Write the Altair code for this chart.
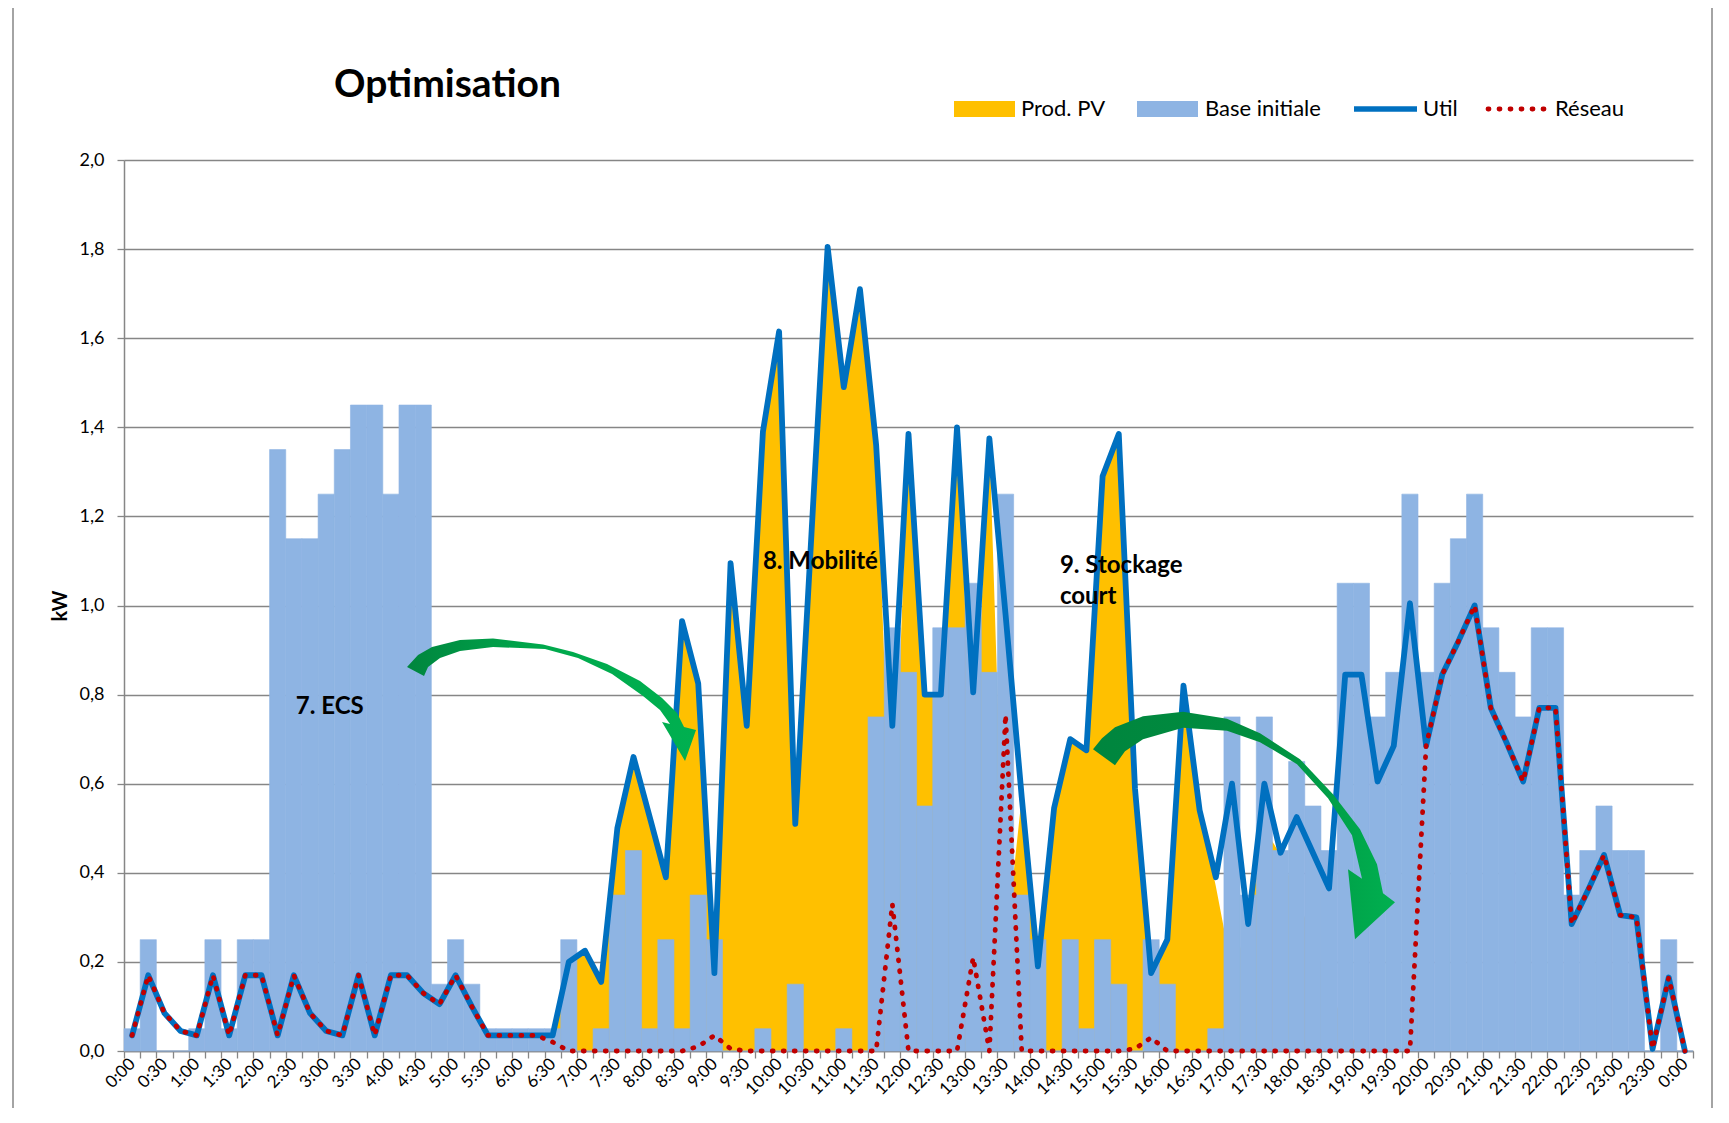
import json
import altair as alt
import pandas as pd

# ---------------- data ----------------
TIMES = [
    "0:00", "0:15", "0:30", "0:45", "1:00", "1:15", "1:30", "1:45",
    "2:00", "2:15", "2:30", "2:45", "3:00", "3:15", "3:30", "3:45",
    "4:00", "4:15", "4:30", "4:45", "5:00", "5:15", "5:30", "5:45",
    "6:00", "6:15", "6:30", "6:45", "7:00", "7:15", "7:30", "7:45",
    "8:00", "8:15", "8:30", "8:45", "9:00", "9:15", "9:30", "9:45",
    "10:00", "10:15", "10:30", "10:45", "11:00", "11:15", "11:30", "11:45",
    "12:00", "12:15", "12:30", "12:45", "13:00", "13:15", "13:30", "13:45",
    "14:00", "14:15", "14:30", "14:45", "15:00", "15:15", "15:30", "15:45",
    "16:00", "16:15", "16:30", "16:45", "17:00", "17:15", "17:30", "17:45",
    "18:00", "18:15", "18:30", "18:45", "19:00", "19:15", "19:30", "19:45",
    "20:00", "20:15", "20:30", "20:45", "21:00", "21:15", "21:30", "21:45",
    "22:00", "22:15", "22:30", "22:45", "23:00", "23:15", "23:30", "23:45",
    "0:00",
]

BASE_INITIALE = [
    0.05, 0.25, 0.00, 0.00, 0.05, 0.25, 0.05, 0.25,
    0.25, 1.35, 1.15, 1.15, 1.25, 1.35, 1.45, 1.45,
    1.25, 1.45, 1.45, 0.15, 0.25, 0.15, 0.05, 0.05,
    0.05, 0.05, 0.05, 0.25, 0.00, 0.05, 0.35, 0.45,
    0.05, 0.25, 0.05, 0.35, 0.25, 0.00, 0.00, 0.05,
    0.00, 0.15, 0.00, 0.00, 0.05, 0.00, 0.75, 0.95,
    0.85, 0.55, 0.95, 0.95, 1.05, 0.85, 1.25, 0.35,
    0.25, 0.00, 0.25, 0.05, 0.25, 0.15, 0.00, 0.25,
    0.15, 0.00, 0.00, 0.05, 0.75, 0.35, 0.75, 0.45,
    0.65, 0.55, 0.45, 1.05, 1.05, 0.75, 0.85, 1.25,
    0.85, 1.05, 1.15, 1.25, 0.95, 0.85, 0.75, 0.95,
    0.95, 0.35, 0.45, 0.55, 0.45, 0.45, 0.00, 0.25,
    0.00,
]

PROD_PV = [
    0.00, 0.00, 0.00, 0.00, 0.00, 0.00, 0.00, 0.00,
    0.00, 0.00, 0.00, 0.00, 0.00, 0.00, 0.00, 0.00,
    0.00, 0.00, 0.00, 0.00, 0.00, 0.00, 0.00, 0.00,
    0.00, 0.00, 0.03, 0.20, 0.225, 0.155, 0.50, 0.66,
    0.525, 0.39, 0.965, 0.815, 0.14, 1.09, 0.73, 1.39,
    1.615, 0.51, 1.16, 1.805, 1.49, 1.71, 1.36, 0.40,
    1.385, 0.80, 0.80, 1.40, 0.595, 1.375, 0.23, 0.57,
    0.19, 0.545, 0.70, 0.675, 1.29, 1.385, 0.585, 0.145,
    0.25, 0.82, 0.54, 0.37, 0.18, 0.28, 0.50, 0.44,
    0.35, 0.25, 0.15, 0.05, 0.00, 0.00, 0.00, 0.00,
    0.00, 0.00, 0.00, 0.00, 0.00, 0.00, 0.00, 0.00,
    0.00, 0.00, 0.00, 0.00, 0.00, 0.00, 0.00, 0.00,
    0.00,
]

UTIL = [
    0.035, 0.17, 0.085, 0.045, 0.035, 0.17, 0.035, 0.17,
    0.17, 0.035, 0.17, 0.085, 0.045, 0.035, 0.17, 0.035,
    0.17, 0.17, 0.13, 0.105, 0.17, 0.10, 0.035, 0.035,
    0.035, 0.035, 0.035, 0.20, 0.225, 0.155, 0.50, 0.66,
    0.525, 0.39, 0.965, 0.825, 0.175, 1.095, 0.73, 1.39,
    1.615, 0.51, 1.16, 1.805, 1.49, 1.71, 1.36, 0.73,
    1.385, 0.80, 0.80, 1.40, 0.805, 1.375, 0.98, 0.57,
    0.19, 0.545, 0.70, 0.675, 1.29, 1.385, 0.59, 0.175,
    0.25, 0.82, 0.54, 0.39, 0.60, 0.285, 0.60, 0.445,
    0.525, 0.445, 0.365, 0.845, 0.845, 0.605, 0.685, 1.005,
    0.685, 0.845, 0.92, 1.00, 0.77, 0.69, 0.605, 0.77,
    0.77, 0.285, 0.36, 0.44, 0.305, 0.30, 0.005, 0.165,
    0.00,
]

RESEAU = [
    0.035, 0.17, 0.085, 0.045, 0.035, 0.17, 0.035, 0.17,
    0.17, 0.035, 0.17, 0.085, 0.045, 0.035, 0.17, 0.035,
    0.17, 0.17, 0.13, 0.105, 0.17, 0.10, 0.035, 0.035,
    0.035, 0.035, 0.02, 0.00, 0.00, 0.00, 0.00, 0.00,
    0.00, 0.00, 0.00, 0.01, 0.035, 0.005, 0.00, 0.00,
    0.00, 0.00, 0.00, 0.00, 0.00, 0.00, 0.00, 0.33,
    0.00, 0.00, 0.00, 0.00, 0.21, 0.00, 0.755, 0.00,
    0.00, 0.00, 0.00, 0.00, 0.00, 0.00, 0.005, 0.03,
    0.00, 0.00, 0.00, 0.00, 0.00, 0.00, 0.00, 0.00,
    0.00, 0.00, 0.00, 0.00, 0.00, 0.00, 0.00, 0.00,
    0.685, 0.845, 0.92, 1.00, 0.77, 0.69, 0.605, 0.77,
    0.77, 0.285, 0.36, 0.44, 0.305, 0.30, 0.005, 0.165,
    0.00,
]

Y_TICKS = [0.0, 0.2, 0.4, 0.6, 0.8, 1.0, 1.2, 1.4, 1.6, 1.8, 2.0]
Y_LABELS = ["0,0", "0,2", "0,4", "0,6", "0,8", "1,0", "1,2", "1,4", "1,6", "1,8", "2,0"]
Y_TITLE = "kW"
TITLE = "Optimisation"
LEGEND = ["Prod. PV", "Base initiale", "Util", "Réseau"]

# annotations (in data coordinates: hours, kW)
NOTES = ["7. ECS", "8. Mobilité", "9. Stockage", "court"]
NOTE_H = [2.53, 9.75, 14.34, 14.34]
NOTE_KW = [0.756, 1.082, 1.073, 1.003]
ARROW_TIP_H = [8.546, 18.901]
ARROW_TIP_KW = [0.651, 0.251]

# ---------------- style ----------------
FONT = "Lato"
ORANGE = "#FFC000"
BLUE = "#8EB4E3"
UTIL_C = "#0070C0"
RES_C = "#C00000"
GRID = "#868686"
W, H = 1569, 891
SLOT = 0.25  # hours per category

n = len(TIMES)
df = pd.DataFrame({
    "time": TIMES,
    "h": [i * SLOT for i in range(n)],
    "base": BASE_INITIALE,
    "pv": PROD_PV,
    "util": UTIL,
    "reseau": RESEAU,
})

label_pos = [i * SLOT for i in range(0, n, 2)]
bounds = [(k - 0.5) * SLOT for k in range(n + 1)]
XVALS = sorted(label_pos + bounds)

XS = alt.Scale(domain=[-SLOT / 2, (n - 1) * SLOT + SLOT / 2], nice=False, zero=False)
YS = alt.Scale(domain=[0, 2], nice=False, zero=True)

is_label = "abs(datum.value * 2 - round(datum.value * 2)) < 0.001"
XA = alt.Axis(
    values=XVALS,
    labelExpr=f"{is_label} ? {json.dumps(TIMES)}[round(datum.value * 4)] : ''",
    labelAngle=315, labelAlign="right", labelBaseline="middle",
    labelFont=FONT, labelFontSize=17, labelColor="black", labelPadding=3,
    labelOverlap=False, labelFlush=False,
    tickSize=7, tickColor=GRID, tickWidth=1.3,
    tickOpacity={"condition": {"test": is_label, "value": 0}, "value": 1},
    domainColor=GRID, domainWidth=1.5, grid=False, title=None,
)
YA = alt.Axis(
    values=Y_TICKS,
    labelExpr=f"{json.dumps(Y_LABELS)}[round(datum.value * 5)]",
    labelFont=FONT, labelFontSize=18, labelColor="black", labelPadding=13,
    labelFlush=False, labelOverlap=False,
    tickSize=7, tickColor=GRID, tickWidth=1.3,
    domainColor=GRID, domainWidth=1.5,
    grid=True, gridColor=GRID, gridWidth=1.3,
    title=Y_TITLE, titleFont=FONT, titleFontSize=20, titleFontWeight="bold",
    titleColor="black", titlePadding=9,
)


def X(field):
    return alt.X(f"{field}:Q", scale=XS, axis=XA)


def Y(field):
    return alt.Y(f"{field}:Q", scale=YS, axis=YA)


pv_area = alt.Chart(df).mark_area(color=ORANGE, opacity=1).encode(x=X("h"), y=Y("pv"))

base_bars = (
    alt.Chart(df)
    .transform_calculate(x0=f"datum.h - {SLOT / 2}", x1=f"datum.h + {SLOT / 2}")
    .mark_rect(color=BLUE, stroke=BLUE, strokeWidth=0.6, opacity=1)
    .encode(x=X("x0"), x2="x1:Q", y=Y("base"), y2=alt.datum(0))
)

util_line = alt.Chart(df).mark_line(
    color=UTIL_C, strokeWidth=5.8, strokeJoin="round", strokeCap="round"
).encode(x=X("h"), y=Y("util"))

res_line = alt.Chart(df).mark_line(
    color=RES_C, strokeWidth=4.8, strokeDash=[1, 10], strokeCap="round", strokeJoin="round"
).encode(x=X("h"), y=Y("reseau"))

# ---------------- annotation arrows (shapes relative to their tip) ----------------
def path(pts):
    return "M" + " L".join(f"{x},{y}" for x, y in pts) + " Z"


ARROW1 = path([
    (-278, -94), (-267, -106), (-253, -114), (-225, -121), (-192, -122.5), (-142, -116.5),
    (-112, -109), (-78, -97), (-45, -80), (-23, -63), (-8, -48), (-1, -34),
    (11, -31), (0, 0), (-23, -39),
    (-15, -37), (-25, -51), (-42, -65), (-73, -87), (-107, -103), (-140, -112),
    (-192, -114), (-225, -110), (-245, -103), (-257, -94), (-261, -85),
])
ARROW2 = path([
    (-262, -190), (-253, -201), (-240, -212), (-212, -223), (-172, -227.5), (-128, -220.5),
    (-95, -206), (-55, -180), (-22, -145), (5, -110), (22, -75), (28, -46),
    (40, -37), (0, 0), (-7, -70),
    (7, -60.5), (-3, -104), (-27, -141), (-58, -175), (-95, -197), (-128, -208.5),
    (-172, -211.5), (-212, -200), (-230, -188), (-240, -174),
])


def grad(c0, c1, c2, mid):
    return {
        "gradient": "linear", "x1": 0, "y1": 0, "x2": 1, "y2": 0,
        "stops": [{"offset": 0, "color": c0}, {"offset": mid, "color": c1},
                  {"offset": 1, "color": c2}],
    }


arrows = []
for i, (shape, g) in enumerate([(ARROW1, grad("#00853E", "#00A84C", "#00B050", 0.45)),
                                (ARROW2, grad("#00853E", "#008E3F", "#00B050", 0.55))]):
    arrows.append(
        alt.Chart(pd.DataFrame({"h": [ARROW_TIP_H[i]], "kw": [ARROW_TIP_KW[i]]}))
        .mark_point(shape=shape, size=4, filled=True, fill=g, opacity=1, strokeOpacity=0)
        .encode(x=X("h"), y=Y("kw"))
    )

notes = (
    alt.Chart(pd.DataFrame({"label": NOTES, "h": NOTE_H, "kw": NOTE_KW}))
    .mark_text(align="left", baseline="alphabetic", font=FONT, fontSize=24,
               fontWeight="bold", color="black")
    .encode(x=X("h"), y=Y("kw"), text="label:N")
)

# ---------------- title, legend, frame ----------------
one = lambda s: alt.Chart(pd.DataFrame({"t": [s]}))

title = one(TITLE).mark_text(
    align="left", baseline="alphabetic", font=FONT, fontSize=39, fontWeight="bold", color="black"
).encode(x=alt.value(210), y=alt.value(-63), text="t:N")

leg_txt = dict(align="left", baseline="middle", font=FONT, fontSize=22, color="black")
LEG_Y = -51
legend = [
    one(LEGEND[0]).mark_rect(color=ORANGE).encode(
        x=alt.value(830), x2=alt.value(891), y=alt.value(-59), y2=alt.value(-43)),
    one(LEGEND[0]).mark_text(**leg_txt).encode(x=alt.value(897), y=alt.value(LEG_Y), text="t:N"),
    one(LEGEND[1]).mark_rect(color=BLUE).encode(
        x=alt.value(1013), x2=alt.value(1074), y=alt.value(-59), y2=alt.value(-43)),
    one(LEGEND[1]).mark_text(**leg_txt).encode(x=alt.value(1081), y=alt.value(LEG_Y), text="t:N"),
    one(LEGEND[2]).mark_rule(color=UTIL_C, strokeWidth=5.5).encode(
        x=alt.value(1230), x2=alt.value(1293), y=alt.value(LEG_Y)),
    one(LEGEND[2]).mark_text(**leg_txt).encode(x=alt.value(1299), y=alt.value(LEG_Y), text="t:N"),
    one(LEGEND[3]).mark_rule(color=RES_C, strokeWidth=4.8, strokeDash=[1, 10], strokeCap="round").encode(
        x=alt.value(1364), x2=alt.value(1425), y=alt.value(LEG_Y)),
    one(LEGEND[3]).mark_text(**leg_txt).encode(x=alt.value(1431), y=alt.value(LEG_Y), text="t:N"),
]

frame = one("frame").mark_rect(filled=False, stroke=GRID, strokeWidth=1.5).encode(
    x=alt.value(-111), x2=alt.value(1588), y=alt.value(-155), y2=alt.value(990))

chart = (
    alt.layer(frame, pv_area, base_bars, util_line, res_line, *arrows, notes, title, *legend)
    .properties(
        width=W, height=H,
        padding={"left": 116, "top": 152, "right": 20, "bottom": 57},
        autosize=alt.AutoSizeParams(type="none"),
        background="white",
    )
    .configure_view(stroke=None)
)

chart.save("out.html", embed_options={"renderer": "svg", "actions": False})
